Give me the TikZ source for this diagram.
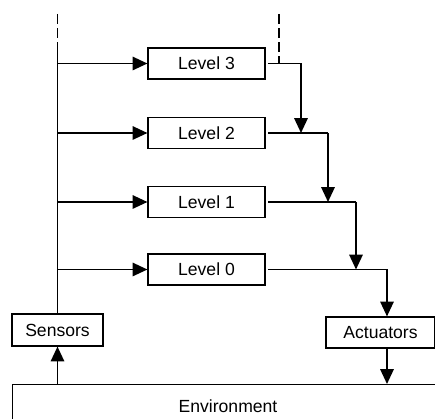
\documentclass[tikz,border=0pt]{standalone}
\usepackage{fontspec}
\setmainfont{Liberation Sans}
\usetikzlibrary{arrows.meta}

\tikzset{
  blk/.style={draw,line width=0.8pt,inner sep=0pt,minimum height=0.775cm,
    font=\fontsize{12.5}{14}\selectfont},
  lvl/.style={blk,minimum width=2.925cm},
  wire/.style={line width=0.8pt},
  cut/.style={line width=0.8pt,dash pattern=on 7pt off 3pt},
  flow/.style={line width=1.2pt,-{Triangle[length=10.5pt,width=9.5pt]}},
}

\begin{document}
\begin{tikzpicture}[x=0.025cm,y=-0.025cm]
\useasboundingbox (0,0) rectangle (435,419);
\clip (0,0) rectangle (435,419);

% levels
\node[lvl] (l3) at (206.5,63.5) {Level 3};
\node[lvl] (l2) at (206.5,133) {Level 2};
\node[lvl] (l1) at (206.5,202) {Level 1};
\node[lvl] (l0) at (206.5,269.5) {Level 0};

% sensors, actuators, environment
\node[blk,minimum width=2.275cm,minimum height=0.8cm] (sens) at (57.5,330) {Sensors};
\node[blk,minimum width=2.725cm] (act) at (380.5,332.5) {Actuators};
\node[draw,line width=0.8pt,anchor=north west,minimum width=12cm,minimum height=2cm] (env) at (12,384) {};
\node[font=\fontsize{12.5}{14}\selectfont] (envtext) at (228,406) {Environment};

\coordinate (tl) at (57.5,14);
\coordinate (tr) at (279,14);
\coordinate (j3) at (301,63.5);
\coordinate (j2) at (328,133);
\coordinate (j1) at (356,202);
\coordinate (j0) at (387,269.5);

% sensor side
\draw[cut] (tl) -- (tl |- l3.north);
\draw[wire] (sens.north) -- (tl |- l3.north);
\draw[flow] (sens.north |- l3) -- (l3.west);
\draw[flow] (sens.north |- l2) -- (l2.west);
\draw[flow] (sens.north |- l1) -- (l1.west);
\draw[flow] (sens.north |- l0) -- (l0.west);
\draw[flow] (env.north -| sens.south) -- (sens.south);

% actuator side
\draw[cut] (tr) -- (tr |- l3);
\draw[wire] ([xshift=2pt]l3.east) -- (j3);
\draw[flow] (j3) -- (j3 |- l2);
\draw[wire] ([xshift=2pt]l2.east) -- (j2);
\draw[flow] (j2) -- (j2 |- l1);
\draw[wire] ([xshift=2pt]l1.east) -- (j1);
\draw[flow] (j1) -- (j1 |- l0);
\draw[wire] ([xshift=2pt]l0.east) -- (j0);
\draw[flow] (j0) -- (j0 |- act.north);
\draw[flow] (act.south -| j0) -- (env.north -| j0);

\end{tikzpicture}
\end{document}
